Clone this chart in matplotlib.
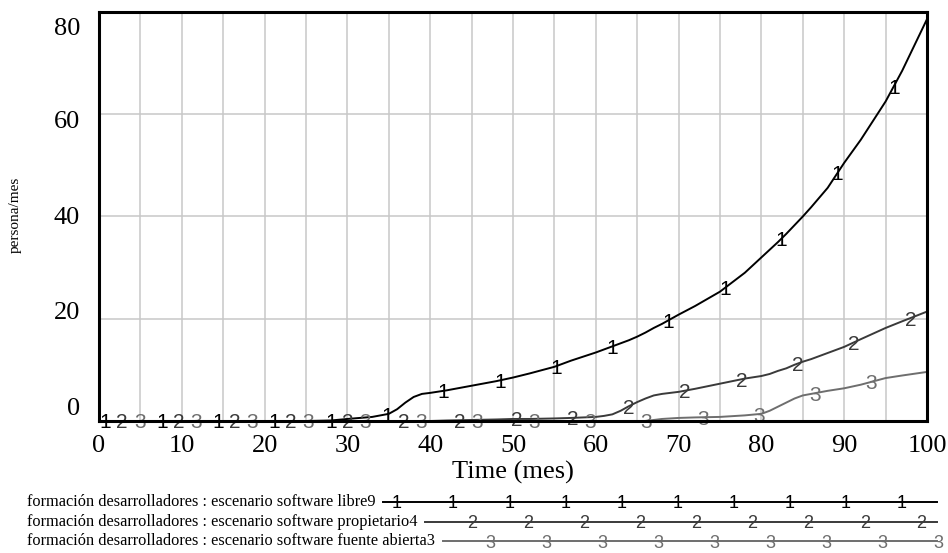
import numpy as np
import matplotlib
matplotlib.use("Agg")
import matplotlib.pyplot as plt
from matplotlib.transforms import ScaledTranslation

months = [0, 5, 10, 15, 20, 25, 28, 30, 33, 35, 36, 37, 38, 39, 40, 42, 45, 48, 50, 52,
          55, 57, 60, 61, 62, 63, 64, 65, 66, 67, 68, 70, 72, 75, 78, 80, 81, 82, 83, 84,
          85, 86, 88, 90, 92, 95, 97, 100]
libre = [0, 0, 0, 0, 0, 0, 0.1, 0.4, 0.8, 1.4, 2.3, 3.6, 4.7, 5.3, 5.5, 6.0, 6.9, 7.8, 8.5, 9.3,
         10.6, 11.8, 13.4, 14.0, 14.6, 15.2, 15.8, 16.5, 17.3, 18.2, 19.0, 20.8, 22.5, 25.3, 29.0,
         32.0, 33.5, 35.0, 36.6, 38.3, 40.0, 41.8, 45.6, 50.5, 55.0, 62.5, 68.5, 78.6]
propietario = [0] * 15 + [0.1, 0.2, 0.3, 0.4, 0.4, 0.5, 0.6, 0.8, 1.0, 1.3, 2.0, 2.9, 3.7, 4.4, 5.0,
                          5.3, 5.7, 6.3, 7.3, 8.3, 8.8, 9.2, 9.8, 10.3, 11.0, 11.6, 12.1, 13.3,
                          14.5, 16.0, 18.2, 19.5, 21.4]
abierta = [0] * 29 + [0.2, 0.4, 0.6, 0.7, 0.8, 1.1, 1.4, 2.0, 2.8, 3.6, 4.4, 5.0, 5.3, 5.9,
                      6.4, 7.1, 8.4, 8.9, 9.6]

names = ["formación desarrolladores : escenario software libre9",
         "formación desarrolladores : escenario software propietario4",
         "formación desarrolladores : escenario software fuente abierta3"]
series = [libre, propietario, abierta]
colors = ["#000000", "#3a3a3a", "#6e6e6e"]
digits = ["1", "2", "3"]
label_start = [0.8, 2.8, 4.9]
label_step = 6.8
yticks = [0, 20, 40, 60, 80]
# vensim spreads the y labels evenly, so they drift off the gridlines (pixels, down)
ytick_shift = [-12, -6, 1, 8, 17]

serif = "Liberation Serif"
sans = "Liberation Sans"

fig = plt.figure(figsize=(9.48, 5.53), dpi=100)
ax = fig.add_axes([99 / 948, 1 - 421 / 553, 828 / 948, 409 / 553])

down = ScaledTranslation(0, -2 / 100, fig.dpi_scale_trans)
for i in range(3):
    ax.plot(months, series[i], color=colors[i], lw=1.4, zorder=3)
    xs = np.arange(label_start[i], 100.01, label_step)
    ys = np.interp(xs, months, series[i])
    for x, y in zip(xs, ys):
        ax.text(x, y, digits[i], color=colors[i], fontsize=15, family=sans,
                ha="center", va="center", clip_on=False, zorder=4,
                transform=ax.transData + down)

ax.set_xlim(0, 100)
ax.set_ylim(0, 80)
ax.set_xticks(np.arange(0, 101, 10))
ax.set_xticks(np.arange(0, 101, 5), minor=True)
ax.set_yticks(yticks)
ax.grid(True, which="both", axis="x", color="#c8c8c8", lw=1.1)
ax.grid(True, axis="y", color="#c8c8c8", lw=1.1)
ax.set_axisbelow(True)
ax.tick_params(which="both", length=0)
ax.tick_params(axis="x", pad=10, labelsize=19)
ax.tick_params(axis="y", labelleft=False)
for lab in ax.get_xticklabels():
    lab.set_family(serif)
for v, dy in zip(yticks, ytick_shift):
    ax.text(-19 / 828, v, str(v), family=serif, fontsize=19, ha="right", va="center",
            transform=ax.get_yaxis_transform() + ScaledTranslation(0, -dy / 100, fig.dpi_scale_trans))
for sp in ax.spines.values():
    sp.set_linewidth(2.2)
    sp.set_zorder(5)

ax.set_xlabel("Time (mes)", family=serif, fontsize=19, labelpad=3)
fig.text(15 / 948, 1 - 215 / 553, "persona/mes", family=serif, fontsize=11,
         rotation=90, ha="center", va="center")

# legend rows at the bottom, drawn in pixel units
leg = fig.add_axes([0, 0, 1, 75 / 553])
leg.set_xlim(0, 948)
leg.set_ylim(553, 478)
leg.axis("off")
rows_y = [502, 522, 541]
first_mark = [397, 472, 490]
fig.canvas.draw()
inv = leg.transData.inverted()
for i in range(3):
    t = leg.text(27, rows_y[i], names[i], family=serif, fontsize=11.8, ha="left", va="center")
    bb = t.get_window_extent(renderer=fig.canvas.get_renderer())
    x_end = inv.transform((bb.x1, bb.y0))[0]
    leg.plot([x_end + 8, 937], [rows_y[i], rows_y[i]], color=colors[i], lw=1.4)
    for x in np.arange(first_mark[i], 940, 56.1):
        leg.text(x, rows_y[i] + 2, digits[i], color=colors[i], fontsize=13, family=sans,
                 ha="center", va="center")

fig.savefig("out.png", dpi=100)
